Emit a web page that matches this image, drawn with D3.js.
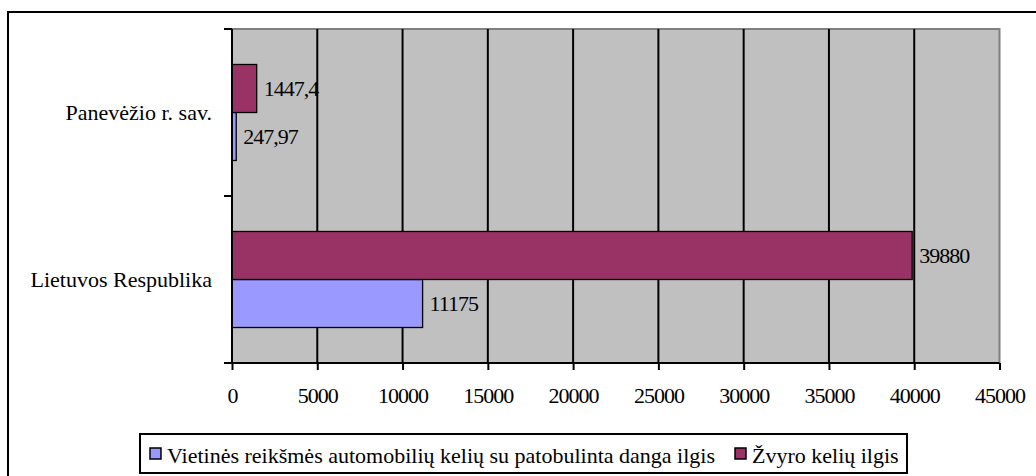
<!DOCTYPE html>
<html>
<head>
<meta charset="utf-8">
<script src="https://cdnjs.cloudflare.com/ajax/libs/d3/7.8.5/d3.min.js"></script>
<style>
  html, body { margin: 0; padding: 0; background: #fff; }
</style>
</head>
<body>
<svg id="chart" width="1036" height="476"></svg>
<script>
const categories = ["Panevėžio r. sav.", "Lietuvos Respublika"];
const seriesNames = ["Vietinės reikšmės automobilių kelių su patobulinta danga ilgis", "Žvyro kelių ilgis"];
const vietinesValues = [247.97, 11175];
const zvyroValues = [1447.4, 39880];
const xTicks = [0, 5000, 10000, 15000, 20000, 25000, 30000, 35000, 40000, 45000];
const seriesColors = ["#9999FF", "#993366"];

(function () {
const FONT = "'Liberation Serif', Tinos, 'Times New Roman', 'DejaVu Serif', serif";
const svg = d3.select("#chart");
const fs = 22;
const numSpacing = -1;

// outer border
svg.append("rect").attr("x", 8).attr("y", 12).attr("width", 1040).attr("height", 480)
  .attr("fill", "#fff").attr("stroke", "#000").attr("stroke-width", 2);

const pL = 232, pR = 999.5, pT = 29, pB = 363;
const x = d3.scaleLinear().domain([0, 45000]).range([pL, pR]);
const y = d3.scaleBand().domain(categories).range([pT, pB]).paddingInner(0.425).paddingOuter(0.2125);
// within group: Žvyro on top, Vietinės below
const inner = d3.scaleBand().domain([1, 0]).range([0, y.bandwidth()]);

// plot background
svg.append("rect").attr("x", pL).attr("y", pT).attr("width", pR - pL).attr("height", pB - pT)
  .attr("fill", "#C0C0C0").attr("stroke", "#808080").attr("stroke-width", 2);

// gridlines
svg.append("g").selectAll("line").data(xTicks.slice(1, -1)).join("line")
  .attr("x1", d => x(d)).attr("x2", d => x(d)).attr("y1", pT).attr("y2", pB)
  .attr("stroke", "#000").attr("stroke-width", 2);

// bars
const data = [];
categories.forEach((c, i) => {
  data.push({cat: c, s: 0, v: vietinesValues[i]});
  data.push({cat: c, s: 1, v: zvyroValues[i]});
});
svg.append("g").selectAll("rect").data(data).join("rect")
  .attr("x", x(0))
  .attr("y", d => y(d.cat) + inner(d.s))
  .attr("width", d => x(d.v) - x(0))
  .attr("height", inner.bandwidth())
  .attr("fill", d => seriesColors[d.s])
  .attr("stroke", "#000").attr("stroke-width", 1.3);

// value labels
svg.append("g").selectAll("text").data(data).join("text")
  .attr("x", d => x(d.v) + 7)
  .attr("y", d => y(d.cat) + inner(d.s) + inner.bandwidth() / 2)
  .attr("dy", "0.35em")
  .attr("font-family", FONT).attr("font-size", fs).attr("letter-spacing", numSpacing)
  .text(d => String(d.v).replace(".", ","));

// x axis
const xAxis = d3.axisBottom(x).tickValues(xTicks).tickSize(7).tickPadding(17).tickFormat(d => String(d));
const gx = svg.append("g").attr("transform", `translate(0,${pB})`).call(xAxis)
  .attr("font-family", FONT).attr("font-size", fs);
gx.select(".domain").remove();
gx.selectAll(".tick line").attr("stroke", "#000").attr("stroke-width", 2);
gx.selectAll("text").attr("fill", "#000").attr("letter-spacing", numSpacing);
svg.append("line").attr("x1", 224).attr("x2", pR).attr("y1", pB).attr("y2", pB)
  .attr("stroke", "#000").attr("stroke-width", 2);

// y axis
svg.append("line").attr("x1", pL).attr("x2", pL).attr("y1", pT).attr("y2", pB)
  .attr("stroke", "#000").attr("stroke-width", 2);
const yTickPos = [pT, y(categories[1]) - y.step() * y.paddingInner() / 2, pB];
svg.append("g").selectAll("line").data(yTickPos).join("line")
  .attr("x1", 224).attr("x2", pL).attr("y1", d => d).attr("y2", d => d)
  .attr("stroke", "#000").attr("stroke-width", 2);
svg.append("g").selectAll("text").data(categories).join("text")
  .attr("x", 212).attr("y", d => y(d) + y.bandwidth() / 2)
  .attr("dy", "0.35em").attr("text-anchor", "end")
  .attr("font-family", FONT).attr("font-size", fs)
  .text(d => d);

// legend
const lg = svg.append("g");
lg.append("rect").attr("x", 140).attr("y", 434).attr("width", 767).attr("height", 39)
  .attr("fill", "#fff").attr("stroke", "#000").attr("stroke-width", 2);
const legX = [150, 735];
seriesNames.forEach((n, i) => {
  lg.append("rect").attr("x", legX[i]).attr("y", 448).attr("width", 11).attr("height", 11)
    .attr("fill", seriesColors[i]).attr("stroke", "#000").attr("stroke-width", 1.5);
  lg.append("text").attr("x", legX[i] + 17).attr("y", 455).attr("dy", "0.35em")
    .attr("font-family", FONT).attr("font-size", fs).text(n);
});
})();
</script>
</body>
</html>
